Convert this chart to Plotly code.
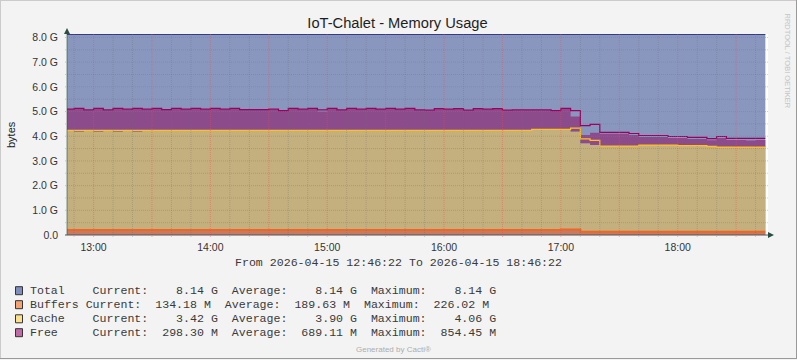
import plotly.graph_objects as go
from datetime import datetime, timedelta

# ---------------- data ----------------
TITLE = "IoT-Chalet - Memory Usage"
Y_LABEL = "bytes"
RANGE_START = "2026-04-15 12:46:22"
RANGE_END = "2026-04-15 18:46:22"
FIRST_STEP = "2026-04-15 12:45:00"
STEP_MIN = 5

y_tick_vals = [0, 1, 2, 3, 4, 5, 6, 7, 8]
y_tick_text = ["0.0", "1.0 G", "2.0 G", "3.0 G", "4.0 G", "5.0 G", "6.0 G", "7.0 G", "8.0 G"]
x_tick_vals = ["2026-04-15 13:00", "2026-04-15 14:00", "2026-04-15 15:00",
               "2026-04-15 16:00", "2026-04-15 17:00", "2026-04-15 18:00"]
x_tick_text = ["13:00", "14:00", "15:00", "16:00", "17:00", "18:00"]

# values in G per 5-minute step (12:45 ... 18:40)
total = [8.14, 8.14, 8.14, 8.14, 8.14, 8.14, 8.14, 8.14, 8.14, 8.14, 8.14, 8.14,
         8.14, 8.14, 8.14, 8.14, 8.14, 8.14, 8.14, 8.14, 8.14, 8.14, 8.14, 8.14,
         8.14, 8.14, 8.14, 8.14, 8.14, 8.14, 8.14, 8.14, 8.14, 8.14, 8.14, 8.14,
         8.14, 8.14, 8.14, 8.14, 8.14, 8.14, 8.14, 8.14, 8.14, 8.14, 8.14, 8.14,
         8.14, 8.14, 8.14, 8.14, 8.14, 8.14, 8.14, 8.14, 8.14, 8.14, 8.14, 8.14,
         8.14, 8.14, 8.14, 8.14, 8.14, 8.14, 8.14, 8.14, 8.14, 8.14, 8.14, 8.14]

buffers = [0.204, 0.204, 0.204, 0.204, 0.204, 0.204, 0.204, 0.204, 0.204, 0.204,
           0.204, 0.204, 0.204, 0.204, 0.204, 0.204, 0.204, 0.204, 0.204, 0.204,
           0.204, 0.204, 0.204, 0.204, 0.204, 0.204, 0.204, 0.204, 0.204, 0.204,
           0.204, 0.204, 0.204, 0.204, 0.204, 0.204, 0.204, 0.204, 0.204, 0.204,
           0.204, 0.204, 0.204, 0.204, 0.204, 0.204, 0.204, 0.204, 0.204, 0.204,
           0.204, 0.221, 0.221, 0.131, 0.131, 0.131, 0.131, 0.131, 0.131, 0.131,
           0.131, 0.131, 0.131, 0.131, 0.131, 0.131, 0.131, 0.131, 0.131, 0.131,
           0.131, 0.131]

cache = [4.031, 3.990, 4.031, 3.990, 4.031, 3.990, 4.031, 3.990, 4.031, 4.031,
         4.031, 4.031, 4.031, 4.031, 4.031, 4.031, 4.031, 4.031, 4.031, 4.031,
         4.031, 4.031, 4.031, 4.031, 4.031, 4.031, 4.031, 4.031, 4.031, 4.031,
         4.031, 4.031, 4.031, 4.031, 4.031, 4.031, 4.031, 4.031, 4.031, 4.031,
         4.031, 4.031, 4.031, 4.031, 4.031, 4.031, 4.031, 4.031, 4.060, 4.060,
         4.060, 4.060, 3.970, 3.580, 3.510, 3.470, 3.470, 3.470, 3.470, 3.510,
         3.510, 3.510, 3.510, 3.490, 3.490, 3.490, 3.460, 3.430, 3.430, 3.430,
         3.430, 3.430]

free = [0.845, 0.916, 0.815, 0.916, 0.815, 0.916, 0.845, 0.916, 0.845, 0.875,
        0.825, 0.875, 0.845, 0.875, 0.845, 0.875, 0.845, 0.875, 0.825, 0.825,
        0.825, 0.845, 0.785, 0.875, 0.845, 0.875, 0.765, 0.875, 0.815, 0.875,
        0.845, 0.875, 0.845, 0.875, 0.845, 0.875, 0.815, 0.805, 0.865, 0.845,
        0.865, 0.805, 0.865, 0.845, 0.865, 0.805, 0.815, 0.815, 0.786, 0.786,
        0.756, 0.829, 0.609, 0.339, 0.499, 0.499, 0.499, 0.499, 0.449, 0.329,
        0.329, 0.329, 0.289, 0.309, 0.269, 0.269, 0.249, 0.369, 0.289, 0.289,
        0.270, 0.291]

# stacked LINE readings (G) for cache and free outlines
cache_line_top = [4.24, 4.24, 4.24, 4.24, 4.24, 4.24, 4.24, 4.24, 4.24, 4.24,
                  4.24, 4.24, 4.24, 4.24, 4.24, 4.24, 4.24, 4.24, 4.24, 4.24,
                  4.24, 4.24, 4.24, 4.24, 4.24, 4.24, 4.24, 4.24, 4.24, 4.24,
                  4.24, 4.24, 4.24, 4.24, 4.24, 4.24, 4.24, 4.24, 4.24, 4.24,
                  4.24, 4.24, 4.24, 4.24, 4.24, 4.24, 4.24, 4.24, 4.28, 4.28,
                  4.28, 4.28, 4.33, 3.89, 3.83, 3.60, 3.60, 3.60, 3.60, 3.64,
                  3.64, 3.64, 3.64, 3.62, 3.62, 3.62, 3.59, 3.56, 3.56, 3.56,
                  3.56, 3.56]

free_line_top = [5.10, 5.13, 5.07, 5.13, 5.07, 5.13, 5.10, 5.13, 5.10, 5.13,
                 5.08, 5.13, 5.10, 5.13, 5.10, 5.13, 5.10, 5.13, 5.08, 5.08,
                 5.08, 5.10, 5.04, 5.13, 5.10, 5.13, 5.07, 5.13, 5.07, 5.13,
                 5.10, 5.13, 5.10, 5.13, 5.10, 5.13, 5.07, 5.06, 5.12, 5.10,
                 5.12, 5.06, 5.12, 5.10, 5.12, 5.06, 5.07, 5.07, 5.07, 5.07,
                 5.04, 5.13, 5.04, 4.43, 4.48, 4.16, 4.16, 4.16, 4.11, 4.03,
                 4.03, 4.03, 3.99, 3.99, 3.95, 3.95, 3.90, 3.99, 3.91, 3.91,
                 3.91, 3.91]

legend_names = ["Total", "Buffers", "Cache", "Free"]
legend_rows = [
    "Total    Current:    8.14 G  Average:    8.14 G  Maximum:    8.14 G",
    "Buffers Current:  134.18 M  Average:  189.63 M  Maximum:  226.02 M",
    "Cache    Current:    3.42 G  Average:    3.90 G  Maximum:    4.06 G",
    "Free     Current:  298.30 M  Average:  689.11 M  Maximum:  854.45 M",
]
legend_swatch = ["#7F8EBB", "#F5A272", "#FBE08E", "#C06BA6"]
footer_range = "From 2026-04-15 12:46:22 To 2026-04-15 18:46:22"

# ---------------- layout constants ----------------
W, H = 797, 360
L, R, T, B = 67, 29, 34, 125
PW, PH = W - L - R, H - T - B


def px(x):
    return (x - L) / PW


def py(y):
    return (H - B - y) / PH


t0 = datetime.fromisoformat(FIRST_STEP)
times = [t0 + timedelta(minutes=STEP_MIN * i) for i in range(len(total) + 1)]


def ext(a):
    return list(a) + [a[-1]]


cum_buf = list(buffers)
cum_cache = [b + c for b, c in zip(buffers, cache)]
cum_free = [c + f for c, f in zip(cum_cache, free)]

fig = go.Figure()
fig.add_trace(go.Scatter(x=times, y=ext(total), mode="lines", line=dict(width=0, shape="hv"),
                         fill="tozeroy", fillcolor="#8997BF", hoverinfo="skip"))
fig.add_trace(go.Scatter(x=times, y=ext(cum_buf), mode="lines", line=dict(width=0, shape="hv"),
                         fill="tozeroy", fillcolor="#C47B62", hoverinfo="skip"))
fig.add_trace(go.Scatter(x=times, y=ext(cum_cache), mode="lines", line=dict(width=0, shape="hv"),
                         fill="tonexty", fillcolor="#C4AF7E", hoverinfo="skip"))
fig.add_trace(go.Scatter(x=times, y=ext(cum_free), mode="lines", line=dict(width=0, shape="hv"),
                         fill="tonexty", fillcolor="#8C4C8C", hoverinfo="skip"))
# outlines
fig.add_trace(go.Scatter(x=times, y=ext(total), mode="lines",
                         line=dict(width=1.5, color="#1C1C70", shape="hv"), hoverinfo="skip"))
fig.add_trace(go.Scatter(x=times, y=ext(cum_buf), mode="lines",
                         line=dict(width=2, color="#F26522", shape="hv"), hoverinfo="skip"))
fig.add_trace(go.Scatter(x=times, y=ext(cache_line_top), mode="lines",
                         line=dict(width=1.2, color="#FFC21A", shape="hv"), hoverinfo="skip"))
fig.add_trace(go.Scatter(x=times, y=ext(free_line_top), mode="lines",
                         line=dict(width=1.2, color="#99005F", shape="hv"), hoverinfo="skip"))

shapes = []
MINOR = "rgba(110,110,110,0.30)"
MAJOR = "rgba(255,70,70,0.40)"
# vertical grid: every 10 min, major every 30 min
gs = datetime.fromisoformat("2026-04-15 12:50:00")
ge = datetime.fromisoformat(RANGE_END)
g = gs
while g < ge:
    major = g.minute % 30 == 0
    shapes.append(dict(type="line", xref="x", yref="paper", x0=g, x1=g,
                       y0=-2 / PH, y1=1, layer="above",
                       line=dict(color=MAJOR if major else MINOR, width=1, dash="1px,1px")))
    g += timedelta(minutes=10)
# horizontal grid: every 0.5 G, major at whole G
for k in range(1, 17):
    v = k / 2
    major = k % 2 == 0
    shapes.append(dict(type="line", xref="paper", yref="y", x0=-2 / PW, x1=1, y0=v, y1=v,
                       layer="above",
                       line=dict(color=MAJOR if major else MINOR, width=1, dash="1px,1px")))
# axes lines
shapes.append(dict(type="line", xref="paper", yref="paper", x0=0, x1=0, y0=0, y1=py(31),
                   layer="above", line=dict(color="rgba(44,77,67,0.6)", width=1)))
shapes.append(dict(type="line", xref="paper", yref="paper", x0=-2 / PW, x1=px(769), y0=0, y1=0,
                   layer="above", line=dict(color="#55555A", width=1)))
# arrows
shapes.append(dict(type="path", xref="paper", yref="paper", layer="above",
                   path=f"M {px(64)} {py(34)} L {px(70)} {py(34)} L {px(67)} {py(28)} Z",
                   fillcolor="#2C4D43", line=dict(width=0)))
shapes.append(dict(type="path", xref="paper", yref="paper", layer="above",
                   path=f"M {px(768)} {py(232)} L {px(768)} {py(238)} L {px(774)} {py(235)} Z",
                   fillcolor="#2C4D43", line=dict(width=0)))
# page frame
shapes.append(dict(type="line", xref="paper", yref="paper", x0=px(0), x1=px(797), y0=py(0.5), y1=py(0.5),
                   line=dict(color="#CBCBCB", width=1)))
shapes.append(dict(type="line", xref="paper", yref="paper", x0=px(0.5), x1=px(0.5), y0=py(0), y1=py(359),
                   line=dict(color="#CBCBCB", width=1)))
shapes.append(dict(type="line", xref="paper", yref="paper", x0=px(0), x1=px(797), y0=py(358.5), y1=py(358.5),
                   line=dict(color="#999999", width=1)))
shapes.append(dict(type="line", xref="paper", yref="paper", x0=px(796.5), x1=px(796.5), y0=py(0), y1=py(359),
                   line=dict(color="#999999", width=1)))

annotations = []
row_y = [290.7, 304.7, 318.8, 332.7]
for i, (txt, col) in enumerate(zip(legend_rows, legend_swatch)):
    yc = row_y[i]
    shapes.append(dict(type="rect", xref="paper", yref="paper",
                       x0=px(15.5), x1=px(22.5), y0=py(yc - 4), y1=py(yc + 4),
                       fillcolor=col, line=dict(color="#333333", width=1)))
    annotations.append(dict(xref="paper", yref="paper", x=px(28), y=py(yc),
                            xanchor="left", yanchor="middle", showarrow=False,
                            text=txt.replace(" ", "\u00a0"),
                            font=dict(family="Liberation Mono", size=11.6, color="#3A3A3A")))

annotations.append(dict(xref="paper", yref="paper", x=px(398), y=py(262.5),
                        xanchor="center", yanchor="middle", showarrow=False,
                        text=footer_range.replace(" ", "\u00a0"),
                        font=dict(family="Liberation Mono", size=11.6, color="#3A3A3A")))
annotations.append(dict(xref="paper", yref="paper", x=px(11), y=py(135),
                        xanchor="center", yanchor="middle", showarrow=False, textangle=-90,
                        text=Y_LABEL, font=dict(family="Liberation Sans", size=11, color="#222222")))
annotations.append(dict(xref="paper", yref="paper", x=px(393), y=py(349),
                        xanchor="center", yanchor="middle", showarrow=False,
                        text="Generated by Cacti®",
                        font=dict(family="Liberation Sans", size=8, color="#ADADAD")))
annotations.append(dict(xref="paper", yref="paper", x=px(787.5), y=py(61),
                        xanchor="center", yanchor="middle", showarrow=False, textangle=90,
                        text="RRDTOOL / TOBI OETIKER",
                        font=dict(family="Liberation Sans", size=7.5, color="#C4C4C4")))

fig.update_layout(
    width=W, height=H, autosize=False,
    margin=dict(l=L, r=R, t=T, b=B, pad=0),
    paper_bgcolor="#F3F3F3", plot_bgcolor="#FFFFFF",
    showlegend=False,
    title=dict(text=TITLE, x=397.5 / W, xref="container", xanchor="center",
               y=1 - 22.5 / H, yref="container", yanchor="middle",
               font=dict(family="Liberation Sans", size=14.7, color="#1E1E1E")),
    xaxis=dict(type="date", range=[RANGE_START, RANGE_END], tickvals=x_tick_vals, ticktext=x_tick_text,
               showgrid=False, zeroline=False, showline=False, ticks="", ticklabelstandoff=4,
               tickfont=dict(family="Liberation Sans", size=10.5, color="#333333"), fixedrange=True),
    yaxis=dict(range=[0, 8.14], tickvals=y_tick_vals, ticktext=y_tick_text,
               showgrid=False, zeroline=False, showline=False, ticks="", ticklabelstandoff=8,
               tickfont=dict(family="Liberation Sans", size=10.5, color="#333333"), fixedrange=True),
    shapes=shapes,
    annotations=annotations,
)

fig.write_html("out.html")
